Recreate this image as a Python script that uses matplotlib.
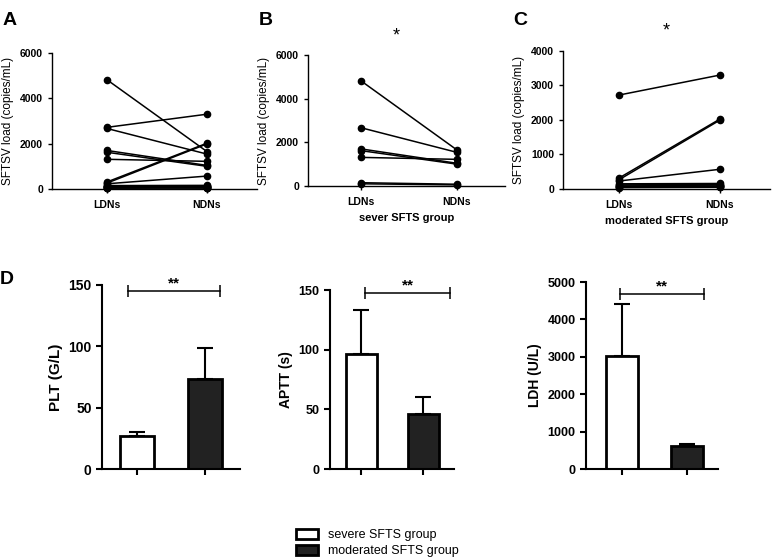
import matplotlib.pyplot as plt
from matplotlib.patches import Patch

plt.rcParams['font.family'] = ['Liberation Sans', 'DejaVu Sans']

# paired viral loads (LDNs, NDNs) per patient
severe_ldn = [4820, 2670, 1700, 1620, 1310, 150, 100]
severe_ndn = [1650, 1540, 1040, 1000, 1220, 80, 50]
moder_ldn = [2720, 310, 260, 230, 150, 120, 100, 80, 60, 50, 40]
moder_ndn = [3300, 2020, 1990, 570, 160, 130, 100, 120, 60, 80, 50]
pair_labels = ['LDNs', 'NDNs']

# clinical parameters: mean and upper error (severe, moderated)
bar_names = ['PLT (G/L)', 'APTT (s)', 'LDH (U/L)']
bar_means = [[27, 73], [96, 46], [3020, 620]]
bar_errs = [[3, 26], [37, 14], [1400, 60]]
bar_ylims = [150, 150, 5000]
bar_ticks = [[0, 50, 100, 150], [0, 50, 100, 150], [0, 1000, 2000, 3000, 4000, 5000]]
legend_labels = ['severe SFTS group', 'moderated SFTS group']

fig = plt.figure(figsize=(7.78, 5.59), dpi=100)


def style(ax, lw=1.0):
    for s in ['top', 'right']:
        ax.spines[s].set_visible(False)
    for s in ['left', 'bottom']:
        ax.spines[s].set_linewidth(lw)
    ax.tick_params(direction='out', length=3, width=lw)


def paired(ax, ldn, ndn, ymax, step, xlabel=None, star=False):
    for a, b in zip(ldn, ndn):
        ax.plot([0, 1], [a, b], color='black', lw=1.1, marker='o', ms=4.5,
                clip_on=False)
    ax.set_xlim(-0.55, 1.5)
    ax.set_ylim(0, ymax)
    ax.set_yticks(range(0, ymax + 1, step))
    ax.set_xticks([0, 1])
    ax.set_xticklabels(pair_labels, fontweight='bold', fontsize=7.5)
    ax.tick_params(axis='x', length=0, pad=5)
    for lab in ax.get_yticklabels():
        lab.set_fontweight('bold')
        lab.set_fontsize(7.5)
    ax.set_ylabel('SFTSV load (copies/mL)', fontsize=8.5)
    if xlabel:
        ax.set_xlabel(xlabel, fontweight='bold', fontsize=8, labelpad=4)
    if star:
        ax.text(0.45, 1.08, '*', transform=ax.transAxes, ha='center',
                va='bottom', fontsize=13)
    style(ax)


axA = fig.add_axes([0.0668, 0.6619, 0.2635, 0.2433])
paired(axA, severe_ldn + moder_ldn, severe_ndn + moder_ndn, 6000, 2000)
axB = fig.add_axes([0.3959, 0.6673, 0.2532, 0.2343])
paired(axB, severe_ldn, severe_ndn, 6000, 2000, 'sever SFTS group', True)
axC = fig.add_axes([0.7237, 0.6619, 0.266, 0.2469])
paired(axC, moder_ldn, moder_ndn, 4000, 1000, 'moderated SFTS group', True)
axC.texts[0].set_x(0.5)

boxes = [[0.1311, 0.161, 0.1774, 0.3292],
         [0.4242, 0.161, 0.1594, 0.3202],
         [0.7532, 0.161, 0.1697, 0.3345]]
brackets = [(-0.13, 1.22, 145), (0.06, 1.44, 147.5), (-0.03, 1.26, 4680)]
xlims = [(-0.52, 1.52), (-0.5, 1.5), (-0.55, 1.48)]
lab_sizes = [11, 10, 10]
tick_sizes = [10, 9, 9]

for i in range(3):
    ax = fig.add_axes(boxes[i])
    means = bar_means[i]
    errs = bar_errs[i]
    ax.bar([0, 1], means, width=0.5, color=['white', '#222222'],
           edgecolor='black', linewidth=2, zorder=2)
    ax.errorbar([0, 1], means, yerr=[[0, 0], errs], fmt='none', ecolor='black',
                elinewidth=1.5, capsize=6, capthick=1.5, zorder=1)
    ax.set_xlim(*xlims[i])
    ax.set_ylim(0, bar_ylims[i])
    ax.set_yticks(bar_ticks[i])
    ax.set_xticks([0, 1])
    ax.set_xticklabels([])
    for lab in ax.get_yticklabels():
        lab.set_fontweight('bold')
        lab.set_fontsize(tick_sizes[i])
    ax.set_ylabel(bar_names[i], fontweight='bold', fontsize=lab_sizes[i])
    x1, x2, yb = brackets[i]
    ax.plot([x1, x2], [yb, yb], color='black', lw=1.1, clip_on=False)
    ax.plot([x1, x2], [yb, yb], ls='none', marker='|', ms=8, mew=1.1,
            color='black', clip_on=False)
    ax.text((x1 + x2) / 2, yb + bar_ylims[i] * 0.005, '**', ha='center',
            va='bottom', fontsize=11, fontweight='bold')
    style(ax, 1.5)
    ax.tick_params(length=4)

fig.legend(handles=[Patch(facecolor='white', edgecolor='black', linewidth=2),
                    Patch(facecolor='#222222', edgecolor='black', linewidth=2)],
           labels=legend_labels, loc='center left',
           bbox_to_anchor=(0.366, 1 - 543 / 559), frameon=False, fontsize=9,
           handlelength=1.8, handleheight=0.9, labelspacing=0.3,
           handletextpad=0.8)

for lab, x, y in [('A', 0.003, 0.978), ('B', 0.333, 0.978), ('C', 0.66, 0.978),
                  ('D', 0.0, 0.515)]:
    fig.text(x, y, lab, fontsize=14, fontweight='bold', va='top')

fig.savefig('out.png', dpi=100)
